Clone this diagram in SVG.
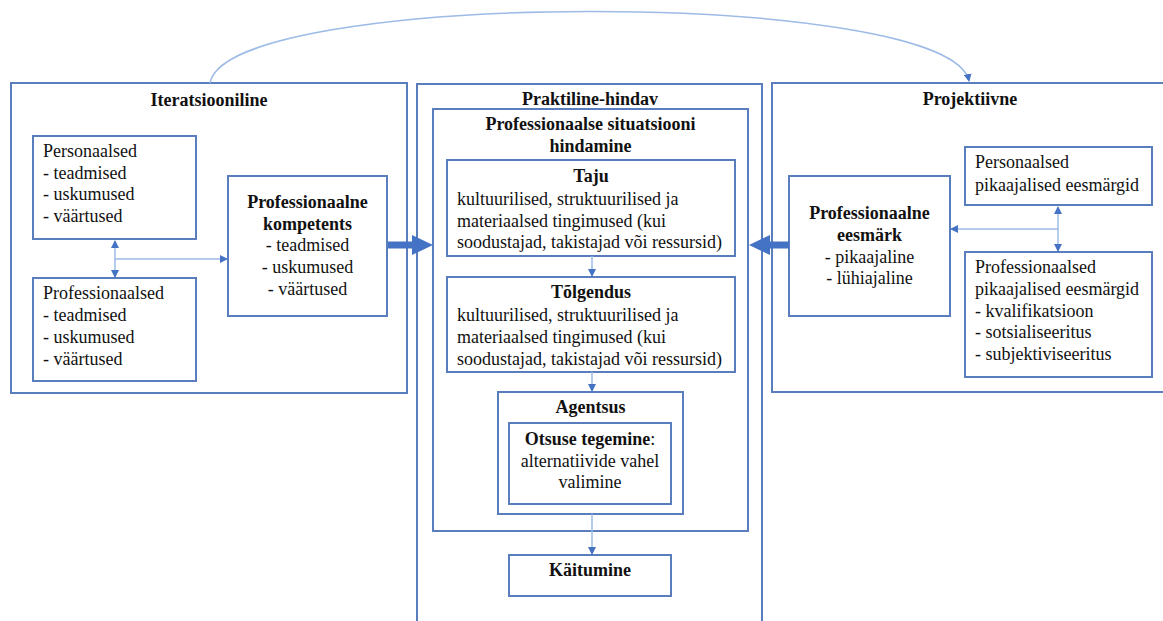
<svg xmlns="http://www.w3.org/2000/svg" width="1163" height="621" viewBox="0 0 1163 621">
<style>
rect{fill:#fff;stroke:#5a7dbd;stroke-width:2}
text{font-family:"Liberation Serif","Times New Roman",serif;font-size:18px;fill:#111}
.b{font-weight:bold}
.c{text-anchor:middle}
.ln{fill:none;stroke:#9dbbe6;stroke-width:1.5}
.thick{fill:none;stroke:#4472c4;stroke-width:7}
</style>
<defs>
<marker id="ah" markerWidth="8" markerHeight="8" refX="7" refY="4" orient="auto" markerUnits="userSpaceOnUse">
<path d="M0,0 L8,4 L0,8 z" fill="#4472c4"/>
</marker>
</defs>
<rect width="1163" height="621" style="fill:#fff;stroke:none"/>

<g id="iteratsiooniline">
<rect x="11" y="83" width="396" height="310"/>
<text class="b c" x="209" y="106">Iteratsiooniline</text>
</g>
<g id="praktiline">
<rect x="417" y="84" width="345" height="560"/>
<text class="b c" x="590" y="105">Praktiline-hindav</text>
</g>
<g id="projektiivne">
<rect x="772" y="83" width="420" height="309"/>
<text class="b c" x="970" y="105">Projektiivne</text>
</g>

<g id="personaalsed">
<rect x="33" y="136" width="163" height="103"/>
<text x="43" y="157">Personaalsed</text>
<text x="43" y="179">- teadmised</text>
<text x="43" y="200">- uskumused</text>
<text x="43" y="222">- väärtused</text>
</g>
<g id="professionaalsed">
<rect x="33" y="278" width="163" height="103"/>
<text x="43" y="299">Professionaalsed</text>
<text x="43" y="321">- teadmised</text>
<text x="43" y="343">- uskumused</text>
<text x="43" y="365">- väärtused</text>
</g>
<g id="kompetents">
<rect x="228" y="176" width="159" height="140"/>
<text class="b c" x="307.5" y="208">Professionaalne</text>
<text class="b c" x="307.5" y="230">kompetents</text>
<text class="c" x="307.5" y="251">- teadmised</text>
<text class="c" x="307.5" y="273">- uskumused</text>
<text class="c" x="307.5" y="295">- väärtused</text>
</g>

<g id="hindamine">
<rect x="433" y="109" width="315" height="422"/>
<text class="b c" x="590.5" y="130">Professionaalse situatsiooni</text>
<text class="b c" x="590.5" y="152">hindamine</text>
</g>
<g id="taju">
<rect x="447" y="160" width="288" height="96"/>
<text class="b c" x="591" y="182">Taju</text>
<text x="457" y="205">kultuurilised, struktuurilised ja</text>
<text x="457" y="227">materiaalsed tingimused (kui</text>
<text x="457" y="248">soodustajad, takistajad või ressursid)</text>
</g>
<g id="tolgendus">
<rect x="447" y="277" width="288" height="95"/>
<text class="b c" x="591" y="298">Tõlgendus</text>
<text x="457" y="321">kultuurilised, struktuurilised ja</text>
<text x="457" y="343">materiaalsed tingimused (kui</text>
<text x="457" y="365">soodustajad, takistajad või ressursid)</text>
</g>
<g id="agentsus">
<rect x="498" y="392" width="185" height="122"/>
<text class="b c" x="590.5" y="413">Agentsus</text>
</g>
<g id="otsuse">
<rect x="509" y="423" width="162" height="81"/>
<text class="c" x="590" y="445"><tspan class="b">Otsuse tegemine</tspan>:</text>
<text class="c" x="590" y="467">alternatiivide vahel</text>
<text class="c" x="590" y="488">valimine</text>
</g>
<g id="kaitumine">
<rect x="509" y="555" width="162" height="41"/>
<text class="b c" x="590" y="576">Käitumine</text>
</g>

<g id="eesmark">
<rect x="789" y="176" width="161" height="140"/>
<text class="b c" x="869.5" y="219">Professionaalne</text>
<text class="b c" x="869.5" y="241">eesmärk</text>
<text class="c" x="869.5" y="263">- pikaajaline</text>
<text class="c" x="869.5" y="284">- lühiajaline</text>
</g>
<g id="pers-eesmargid">
<rect x="965" y="147" width="187" height="58"/>
<text x="975" y="168">Personaalsed</text>
<text x="975" y="191">pikaajalised eesmärgid</text>
</g>
<g id="prof-eesmargid">
<rect x="965" y="252" width="187" height="125"/>
<text x="975" y="273">Professionaalsed</text>
<text x="975" y="295">pikaajalised eesmärgid</text>
<text x="975" y="317">- kvalifikatsioon</text>
<text x="975" y="338">- sotsialiseeritus</text>
<text x="975" y="360">- subjektiviseeritus</text>
</g>

<g id="connectors">
<path class="ln" d="M210,83 C228,-12 950,-12 969,81" marker-end="url(#ah)"/>
<path class="ln" d="M115,259 V241" marker-end="url(#ah)"/>
<path class="ln" d="M115,259 V277" marker-end="url(#ah)"/>
<path class="ln" d="M115,259 H227" marker-end="url(#ah)"/>
<path class="ln" d="M1058,229 V207" marker-end="url(#ah)"/>
<path class="ln" d="M1058,229 V251" marker-end="url(#ah)"/>
<path class="ln" d="M1058,229 H951" marker-end="url(#ah)"/>
<path class="ln" d="M592,256 V276" marker-end="url(#ah)"/>
<path class="ln" d="M592,372 V391" marker-end="url(#ah)"/>
<path class="ln" d="M592,514 V554" marker-end="url(#ah)"/>
<path d="M388,241.5 H412 V235 L433,245 L412,255 V248.5 H388 Z" fill="#4472c4"/>
<path d="M789,241.5 H770 V235 L749,245 L770,255 V248.5 H789 Z" fill="#4472c4"/>
</g>
</svg>
